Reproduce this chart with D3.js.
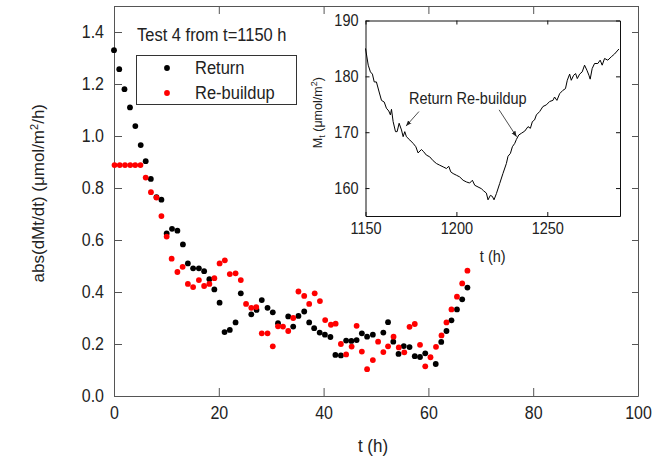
<!DOCTYPE html>
<html>
<head>
<meta charset="utf-8">
<script src="https://cdn.jsdelivr.net/npm/d3@7"></script>
<style>
  body { margin: 0; background: #fff; }
  svg text { font-family: "Liberation Sans", Arial, sans-serif; fill: #222; }
  /* reference glyphs look a bit taller than wide */
  svg text.st { transform-box: fill-box; transform-origin: 50% 60%; transform: scaleY(1.1); }
</style>
</head>
<body>
<div id="wrapper"></div>
<script>
// main plot: |dM/dt| vs t, two series
const returnT = [0, 1.0, 2.0, 3.05, 4.07, 5.1, 6.05, 7.03, 8.1, 9.05, 10.05, 11.07, 12.1, 13.15, 14.1, 15.1, 16.2, 17.2, 18.2, 19.15, 20.15, 21.1, 22.1, 23.2, 24.2, 26.2, 27.2, 28.2, 29.3, 30.3, 31.3, 33.25, 34.2, 35.2, 36.3, 37.25, 38.2, 39.25, 40.25, 41.3, 42.25, 43.3, 44.3, 45.3, 46.3, 47.3, 48.3, 49.4, 51.4, 52.3, 53.3, 54.3, 55.3, 56.4, 57.4, 58.4, 59.4, 61.4, 62.45, 63.45, 64.4, 65.45, 66.45, 67.45]
const returnV = [1.33, 1.257, 1.18, 1.11, 1.038, 0.965, 0.903, 0.835, 0.765, 0.755, 0.625, 0.643, 0.636, 0.583, 0.51, 0.491, 0.491, 0.48, 0.449, 0.41, 0.359, 0.246, 0.254, 0.283, 0.395, 0.314, 0.331, 0.369, 0.339, 0.322, 0.28, 0.306, 0.267, 0.308, 0.325, 0.283, 0.261, 0.244, 0.236, 0.227, 0.158, 0.156, 0.213, 0.212, 0.215, 0.241, 0.228, 0.236, 0.244, 0.284, 0.209, 0.162, 0.192, 0.188, 0.153, 0.15, 0.164, 0.123, 0.208, 0.25, 0.291, 0.333, 0.372, 0.417]

const rebuildT = [0.1, 1.1, 2.1, 3.1, 4.05, 5.05, 6.05, 7.05, 8.1, 9.05, 10.05, 11.0, 12.1, 13.1, 14.1, 15.1, 16.2, 17.2, 18.2, 19.15, 20.15, 21.15, 22.1, 23.2, 24.2, 25.2, 26.2, 27.15, 28.2, 29.3, 30.3, 31.3, 32.25, 33.25, 34.2, 35.2, 36.3, 37.25, 38.3, 39.3, 40.3, 41.4, 42.3, 43.3, 44.3, 45.35, 46.3, 47.3, 48.3, 49.4, 50.4, 51.4, 52.3, 53.35, 54.35, 55.4, 56.4, 57.4, 58.4, 59.4, 60.4, 61.45, 62.5, 63.45, 64.4, 65.45, 66.45, 67.45]
const rebuildV = [0.888, 0.888, 0.888, 0.888, 0.888, 0.888, 0.84, 0.784, 0.763, 0.692, 0.613, 0.528, 0.477, 0.497, 0.431, 0.419, 0.446, 0.423, 0.431, 0.453, 0.51, 0.522, 0.469, 0.472, 0.446, 0.354, 0.339, 0.342, 0.241, 0.241, 0.191, 0.268, 0.267, 0.25, 0.3, 0.402, 0.385, 0.354, 0.395, 0.365, 0.292, 0.274, 0.278, 0.2, 0.16, 0.19, 0.27, 0.171, 0.103, 0.138, 0.209, 0.169, 0.191, 0.228, 0.187, 0.168, 0.266, 0.277, 0.197, 0.114, 0.149, 0.189, 0.233, 0.283, 0.333, 0.382, 0.433, 0.482]

const xTicks = [0, 20, 40, 60, 80, 100]
const yTicks = [0, 0.2, 0.4, 0.6, 0.8, 1.0, 1.2, 1.4]

// inset: M_t vs t
const insetT = [1150, 1151.5, 1152.7, 1153.8, 1154.8, 1156, 1157.5, 1158.8, 1160.3, 1161.5, 1162.8, 1163.7, 1164.3, 1165.2, 1166.5, 1167.4, 1168.5, 1169.8, 1170.7, 1171.6, 1172.5, 1174.4, 1176.2, 1177.7, 1178.9, 1180.8, 1182, 1183.5, 1185.3, 1187.2, 1189, 1190.8, 1192.7, 1194.5, 1195.8, 1196.9, 1198.2, 1200, 1201.8, 1203.7, 1205.5, 1207.3, 1208.8, 1210.1, 1211.9, 1213.7, 1215, 1216.5, 1217.4, 1218.7, 1219.8, 1220.7, 1222, 1223.8, 1225.6, 1227.5, 1228.4, 1229.7, 1230.8, 1232.1, 1233, 1234.3, 1235.7, 1237.6, 1239.4, 1240.7, 1241.8, 1243, 1244, 1245.8, 1247.6, 1249.5, 1251.3, 1253.1, 1254, 1255.3, 1256.8, 1258.6, 1260, 1261, 1262.3, 1263.2, 1264.5, 1265.6, 1266.5, 1267.8, 1269.2, 1270.5, 1271.8, 1272.9, 1273.6, 1274.7, 1276, 1277.8, 1279.1, 1280.2, 1281.5, 1283.3, 1285.2, 1287, 1289.4]
const insetM = [185.0, 182.0, 180.8, 180.4, 179.0, 179.0, 177.2, 175.7, 175.4, 174.3, 173.8, 173.1, 174.1, 171.9, 170.1, 170.1, 171.6, 170.4, 169.2, 170.1, 169.2, 168.6, 168.0, 167.4, 166.3, 166.9, 166.5, 165.9, 165.6, 164.9, 164.4, 164.1, 163.8, 163.5, 163.9, 162.9, 162.6, 162.3, 162.0, 161.4, 161.1, 160.9, 161.4, 160.5, 160.2, 159.9, 159.5, 159.1, 157.9, 158.7, 158.5, 157.9, 159.0, 160.8, 162.6, 164.4, 165.7, 166.2, 167.4, 168.0, 168.7, 169.5, 169.8, 170.2, 171.0, 170.7, 171.9, 172.2, 173.1, 173.7, 174.6, 174.9, 175.5, 175.7, 176.3, 175.7, 176.9, 177.5, 177.8, 179.3, 180.4, 179.3, 180.2, 180.5, 179.6, 180.4, 180.8, 182.0, 181.1, 180.2, 179.5, 181.4, 182.3, 182.3, 182.9, 182.0, 183.2, 182.9, 183.5, 184.0, 184.9]
const insetXTicks = [1150, 1200, 1250]
const insetYTicks = [160, 170, 180, 190]

const dms = { width: 656, height: 458 }

const svg = d3.select('#wrapper')
    .append('svg')
    .attr('width', dms.width)
    .attr('height', dms.height)

const axisColor = '#555'

// ---- main chart ----
const xScale = d3.scaleLinear().domain([0, 100]).range([114, 638])
const yScale = d3.scaleLinear().domain([0, 1.5]).range([396, 6])

const styleAxis = (g, size) => {
    g.selectAll('path, line').attr('stroke', axisColor)
    g.selectAll('text').style('font-size', size).attr('fill', '#222').classed('st', true)
}

svg.append('g')
    .attr('transform', `translate(0, ${yScale(0)})`)
    .call(d3.axisBottom(xScale).tickValues(xTicks).tickSize(-8).tickSizeOuter(0).tickPadding(11))
    .call(g => styleAxis(g, '16px'))
svg.append('g')
    .attr('transform', `translate(${xScale(0)}, 0)`)
    .call(d3.axisLeft(yScale).tickValues(yTicks).tickFormat(d3.format('.1f')).tickSize(-8).tickSizeOuter(0).tickPadding(10))
    .call(g => styleAxis(g, '16px'))
svg.append('g')
    .attr('transform', `translate(0, ${yScale(1.5)})`)
    .call(d3.axisTop(xScale).tickValues(xTicks).tickSize(-8).tickSizeOuter(0).tickFormat(''))
    .call(g => styleAxis(g, '16px'))
svg.append('g')
    .attr('transform', `translate(${xScale(100)}, 0)`)
    .call(d3.axisRight(yScale).tickValues(yTicks).tickSize(-6).tickSizeOuter(0).tickFormat(''))
    .call(g => styleAxis(g, '16px'))

// axis labels
svg.append('text')
    .attr('class', 'st')
    .attr('x', (xScale(0) + xScale(100)) / 2 - 3)
    .attr('y', 452)
    .attr('text-anchor', 'middle')
    .style('font-size', '17px')
    .text('t (h)')

const yLabel = svg.append('text')
    .attr('transform', `translate(44, ${yScale(0.78)}) rotate(-90)`)
    .attr('text-anchor', 'middle')
    .style('font-size', '17px')
yLabel.append('tspan').text('abs(dMt/dt) (\u03bcmol/m')
yLabel.append('tspan').attr('dy', -6).style('font-size', '11px').text('2')
yLabel.append('tspan').attr('dy', 6).text('/h)')

// scatter points
const drawSeries = (ts, vs, color) => {
    svg.append('g')
        .selectAll('circle')
        .data(ts.map((t, i) => [t, vs[i]]))
        .join('circle')
        .attr('cx', d => xScale(d[0]))
        .attr('cy', d => yScale(d[1]))
        .attr('r', 2.9)
        .attr('fill', color)
}
drawSeries(returnT, returnV, '#000')
drawSeries(rebuildT, rebuildV, '#ff0000')

// title + legend
svg.append('text')
    .attr('class', 'st')
    .attr('x', 137)
    .attr('y', 41)
    .style('font-size', '16.5px')
    .text('Test 4 from t=1150 h')

const legend = svg.append('g')
legend.append('rect')
    .attr('x', 136.5).attr('y', 55.5)
    .attr('width', 160).attr('height', 49)
    .attr('fill', 'none')
    .attr('stroke', '#333')
const legendItems = [['Return', '#000'], ['Re-buildup', '#ff0000']]
legendItems.forEach(([name, color], i) => {
    legend.append('circle')
        .attr('cx', 167).attr('cy', 68 + i * 25)
        .attr('r', 2.9).attr('fill', color)
    legend.append('text')
        .attr('class', 'st')
        .attr('x', 195).attr('y', 74 + i * 25)
        .style('font-size', '16.5px')
        .text(name)
})

// ---- inset ----
const xi = d3.scaleLinear().domain([1150, 1290]).range([365.5, 620])
const yi = d3.scaleLinear().domain([155, 190]).range([216, 20.5])

const inset = svg.append('g')
inset.append('rect')
    .attr('x', xi(1150)).attr('y', yi(190))
    .attr('width', xi(1290) - xi(1150)).attr('height', yi(155) - yi(190))
    .attr('fill', '#fff')

const styleInset = g => {
    g.selectAll('path, line').attr('stroke', '#111')
    g.selectAll('text').style('font-size', '14.5px').attr('fill', '#222').classed('st', true)
}
inset.append('g')
    .attr('transform', `translate(0, ${yi(155)})`)
    .call(d3.axisBottom(xi).tickValues(insetXTicks).tickSize(-4).tickSizeOuter(0).tickPadding(7).tickFormat(d3.format('d')))
    .call(styleInset)
inset.append('g')
    .attr('transform', `translate(${xi(1150)}, 0)`)
    .call(d3.axisLeft(yi).tickValues(insetYTicks).tickSize(-4).tickSizeOuter(0).tickPadding(7))
    .call(styleInset)
inset.append('g')
    .attr('transform', `translate(0, ${yi(190)})`)
    .call(d3.axisTop(xi).tickValues(insetXTicks).tickSize(-4).tickSizeOuter(0).tickFormat(''))
    .call(styleInset)
inset.append('g')
    .attr('transform', `translate(${xi(1290)}, 0)`)
    .call(d3.axisRight(yi).tickValues(insetYTicks).tickSize(-4).tickSizeOuter(0).tickFormat(''))
    .call(styleInset)

const line = d3.line()
    .x(d => xi(d[0]))
    .y(d => yi(d[1]))
inset.append('path')
    .datum(insetT.map((t, i) => [t, insetM[i]]))
    .attr('d', line)
    .attr('fill', 'none')
    .attr('stroke', '#000')
    .attr('stroke-width', 1)

inset.append('text')
    .attr('class', 'st')
    .attr('x', (xi(1150) + xi(1290)) / 2)
    .attr('y', 262)
    .attr('text-anchor', 'middle')
    .style('font-size', '14.5px')
    .text('t (h)')

const insetYLabel = inset.append('text')
    .attr('transform', `translate(322, ${yi(173.5)}) rotate(-90)`)
    .attr('text-anchor', 'middle')
    .style('font-size', '12.5px')
insetYLabel.append('tspan').text('M')
insetYLabel.append('tspan').attr('dy', 3).style('font-size', '9px').text('t')
insetYLabel.append('tspan').attr('dy', -3).text(' (\u03bcmol/m')
insetYLabel.append('tspan').attr('dy', -5).style('font-size', '9px').text('2')
insetYLabel.append('tspan').attr('dy', 5).text(')')

// annotation arrows
svg.append('defs').append('marker')
    .attr('id', 'arrow')
    .attr('viewBox', '0 0 10 10')
    .attr('refX', 10).attr('refY', 5)
    .attr('markerWidth', 7).attr('markerHeight', 7)
    .attr('orient', 'auto')
    .append('path')
    .attr('d', 'M0,1 L10,5 L0,9 Z')
    .attr('fill', '#222')

inset.append('text')
    .attr('class', 'st')
    .attr('x', xi(1173.9))
    .attr('y', yi(175.2))
    .style('font-size', '14.5px')
    .text('Return Re-buildup')

const arrows = [
    [[1179.4, 173.7], [1172.3, 171.1]],
    [[1223.5, 174.0], [1233.1, 169.2]]
]
arrows.forEach(([a, b]) => {
    inset.append('line')
        .attr('x1', xi(a[0])).attr('y1', yi(a[1]))
        .attr('x2', xi(b[0])).attr('y2', yi(b[1]))
        .attr('stroke', '#222')
        .attr('stroke-width', 0.8)
        .attr('marker-end', 'url(#arrow)')
})
</script>
</body>
</html>
